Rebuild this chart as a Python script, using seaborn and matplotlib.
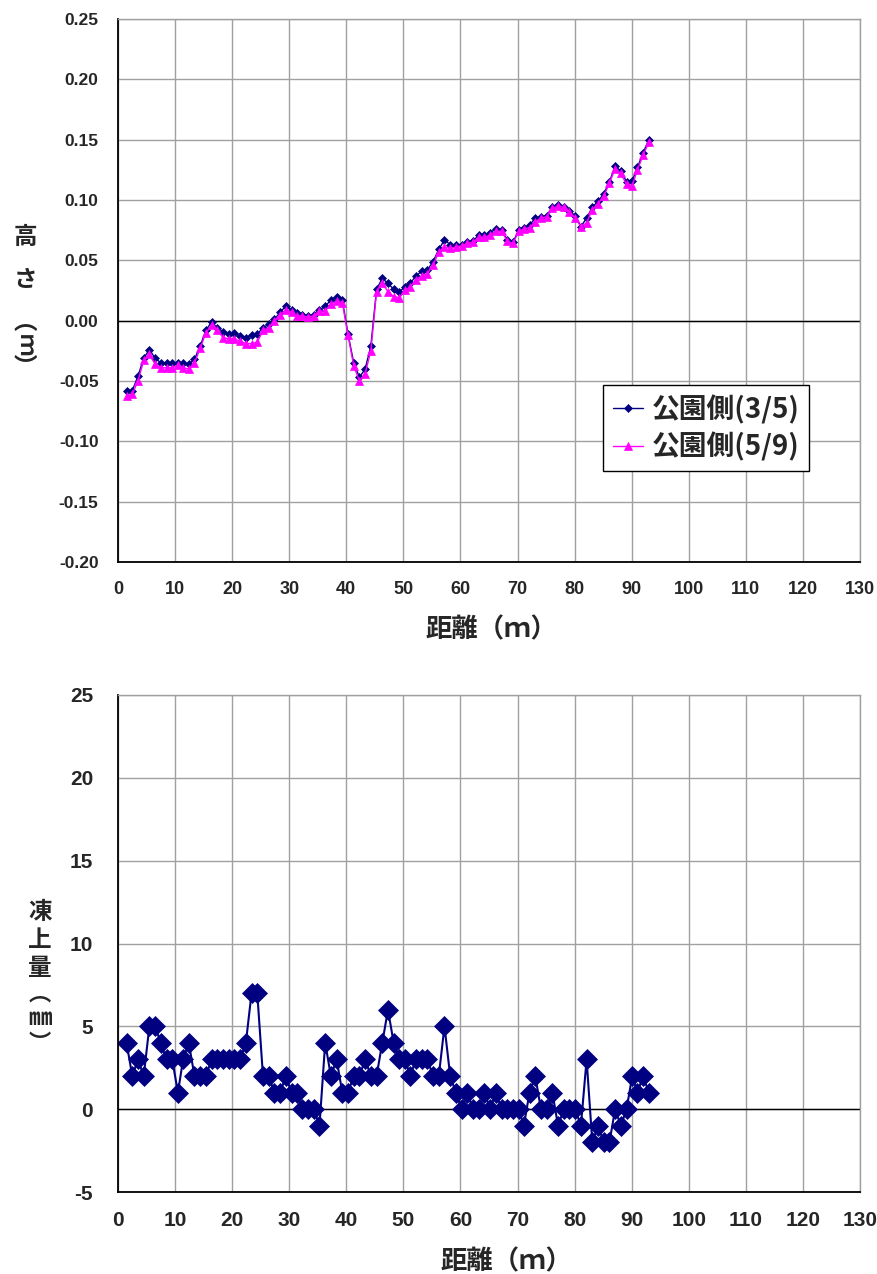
import matplotlib
matplotlib.use("Agg")
import matplotlib.pyplot as plt
import seaborn as sns
from matplotlib.ticker import FormatStrFormatter

# ---------------- data ----------------
distance = [1.5, 2.5, 3.5, 4.5, 5.5, 6.5, 7.5, 8.5, 9.5, 10.5,
            11.4, 12.4, 13.4, 14.4, 15.4, 16.4, 17.4, 18.4, 19.4, 20.4,
            21.4, 22.4, 23.4, 24.4, 25.4, 26.4, 27.4, 28.4, 29.4, 30.4,
            31.3, 32.3, 33.3, 34.3, 35.3, 36.3, 37.3, 38.3, 39.3, 40.3,
            41.3, 42.3, 43.3, 44.3, 45.3, 46.3, 47.3, 48.3, 49.3, 50.3,
            51.2, 52.2, 53.2, 54.2, 55.2, 56.2, 57.2, 58.2, 59.2, 60.2,
            61.2, 62.2, 63.2, 64.2, 65.2, 66.2, 67.2, 68.2, 69.2, 70.2,
            71.1, 72.1, 73.1, 74.1, 75.1, 76.1, 77.1, 78.1, 79.1, 80.1,
            81.1, 82.1, 83.1, 84.1, 85.1, 86.1, 87.1, 88.1, 89.1, 90.1,
            91.0, 92.0, 93.0]

height_0305 = [-0.058, -0.058, -0.046, -0.031, -0.024, -0.031, -0.035, -0.035, -0.035, -0.035,
               -0.035, -0.036, -0.032, -0.021, -0.008, -0.001, -0.006, -0.009, -0.011, -0.010,
               -0.013, -0.014, -0.012, -0.011, -0.006, -0.003, 0.001, 0.007, 0.012, 0.009,
               0.006, 0.005, 0.004, 0.005, 0.009, 0.012, 0.017, 0.020, 0.017, -0.011,
               -0.035, -0.047, -0.040, -0.021, 0.026, 0.035, 0.031, 0.026, 0.024, 0.028,
               0.031, 0.037, 0.041, 0.042, 0.049, 0.059, 0.067, 0.063, 0.063, 0.063,
               0.065, 0.066, 0.071, 0.071, 0.073, 0.076, 0.075, 0.067, 0.065, 0.075,
               0.077, 0.079, 0.085, 0.086, 0.087, 0.094, 0.096, 0.094, 0.091, 0.087,
               0.078, 0.085, 0.094, 0.099, 0.105, 0.115, 0.128, 0.124, 0.115, 0.116,
               0.127, 0.139, 0.150]

height_0509 = [-0.0625, -0.061, -0.050, -0.033, -0.028, -0.036, -0.039, -0.039, -0.039, -0.037,
               -0.039, -0.040, -0.035, -0.023, -0.010, -0.004, -0.008, -0.014, -0.015, -0.015,
               -0.017, -0.019, -0.019, -0.018, -0.008, -0.006, 0.000, 0.005, 0.009, 0.007,
               0.004, 0.004, 0.003, 0.004, 0.008, 0.008, 0.014, 0.016, 0.015, -0.012,
               -0.0375, -0.050, -0.044, -0.025, 0.024, 0.031, 0.024, 0.020, 0.019, 0.025,
               0.028, 0.034, 0.037, 0.039, 0.046, 0.057, 0.061, 0.060, 0.061, 0.062,
               0.064, 0.065, 0.069, 0.069, 0.071, 0.074, 0.074, 0.066, 0.064, 0.074,
               0.076, 0.077, 0.082, 0.085, 0.086, 0.093, 0.095, 0.094, 0.090, 0.085,
               0.078, 0.081, 0.092, 0.097, 0.103, 0.114, 0.126, 0.122, 0.113, 0.112,
               0.125, 0.137, 0.148]

heave_mm = [4, 2, 3, 2, 5, 5, 4, 3, 3, 1,
            3, 4, 2, 2, 2, 3, 3, 3, 3, 3,
            3, 4, 7, 7, 2, 2, 1, 1, 2, 1,
            1, 0, 0, 0, -1, 4, 2, 3, 1, 1,
            2, 2, 3, 2, 2, 4, 6, 4, 3, 3,
            2, 3, 3, 3, 2, 2, 5, 2, 1, 0,
            1, 0, 0, 1, 0, 1, 0, 0, 0, 0,
            -1, 1, 2, 0, 0, 1, -1, 0, 0, 0,
            -1, 3, -2, -1, -2, -2, 0, -1, 0, 2,
            1, 2, 1]

series_labels = ["公園側(3/5)", "公園側(5/9)"]
x_ticks = [0, 10, 20, 30, 40, 50, 60, 70, 80, 90, 100, 110, 120, 130]
top_yticks = [-0.20, -0.15, -0.10, -0.05, 0.00, 0.05, 0.10, 0.15, 0.20, 0.25]
bottom_yticks = [-5, 0, 5, 10, 15, 20, 25]
x_label = "距離（ｍ）"

# ---------------- style ----------------
sns.set_theme(style="white")
plt.rcParams['font.family'] = ['Liberation Sans', 'Noto Sans CJK JP', 'DejaVu Sans']
plt.rcParams['axes.unicode_minus'] = False

NAVY = "#000080"
MAGENTA = "#FF00FF"
GRID = "#a0a0a0"
CJK = ['Noto Sans CJK JP', 'DejaVu Sans']

W, H = 877, 1274
fig = plt.figure(figsize=(W / 100, H / 100), dpi=100)
ax1 = fig.add_axes([118 / W, 1 - 562 / H, 742 / W, 543 / H])
ax2 = fig.add_axes([118 / W, 1 - 1192 / H, 742 / W, 497 / H])

# ---------------- top chart ----------------
sns.lineplot(x=distance, y=height_0305, ax=ax1, color=NAVY, linewidth=1,
             marker='D', markersize=4, markeredgecolor=NAVY, markeredgewidth=0.5,
             label=series_labels[0], sort=False)
sns.lineplot(x=distance, y=height_0509, ax=ax1, color=MAGENTA, linewidth=1,
             marker='^', markersize=6, markeredgecolor=MAGENTA, markeredgewidth=0.5,
             label=series_labels[1], sort=False)

ax1.set_xlim(0, 130)
ax1.set_ylim(-0.20, 0.25)
ax1.set_xticks(x_ticks)
ax1.set_yticks(top_yticks)
ax1.yaxis.set_major_formatter(FormatStrFormatter('%.2f'))

# ---------------- bottom chart ----------------
sns.lineplot(x=distance, y=heave_mm, ax=ax2, color=NAVY, linewidth=1.5,
             marker='D', markersize=10, markeredgecolor=NAVY, markeredgewidth=0.5,
             legend=False, sort=False)
ax2.set_xlim(0, 130)
ax2.set_ylim(-5, 25)
ax2.set_xticks(x_ticks)
ax2.set_yticks(bottom_yticks)

for ax, xfs, yfs, xpad, ypad in [(ax1, 13, 12.5, 14, 14), (ax2, 15, 15, 14, 18)]:
    ax.set_axisbelow(True)
    ax.grid(True, color=GRID, linewidth=1)
    ax.axhline(0, color='black', linewidth=1, zorder=1.5)
    for s in ['left', 'bottom']:
        ax.spines[s].set_color('black')
        ax.spines[s].set_linewidth(1.3)
    for s in ['top', 'right']:
        ax.spines[s].set_color(GRID)
        ax.spines[s].set_linewidth(1)
    ax.tick_params(axis='x', length=0, pad=xpad, labelsize=xfs)
    ax.tick_params(axis='y', length=0, pad=ypad, labelsize=yfs)
    for t in ax.get_xticklabels() + ax.get_yticklabels():
        t.set_fontweight('bold')
    ax.set_ylabel("")

# x labels
ax1.set_xlabel(x_label, fontsize=19, fontweight='bold', family=CJK)
ax1.xaxis.set_label_coords(0.503, -(630 - 562) / 543)
ax1.xaxis.label.set_va('center')
ax2.set_xlabel(x_label, fontsize=19, fontweight='bold', family=CJK)
ax2.xaxis.set_label_coords(0.524, -(1262 - 1192) / 497)
ax2.xaxis.label.set_va('center')

# y labels (vertical stacked)
def ftext(x, y, s, **kw):
    fig.text(x / W, 1 - y / H, s, ha='center', va='center', family=CJK,
             fontweight='bold', **kw)

ftext(25, 237, "高", fontsize=17)
ftext(25, 280, "さ", fontsize=17)
ftext(25, 322, "︵", fontsize=17)
ftext(25, 345, "ｍ", fontsize=16, rotation=270)
ftext(25, 368, "︶", fontsize=17)

ftext(40, 912, "凍", fontsize=17)
ftext(40, 940, "上", fontsize=17)
ftext(40, 968, "量", fontsize=17)
ftext(40, 994, "︵", fontsize=16)
ftext(40, 1018, "㎜", fontsize=17)
ftext(40, 1043, "︶", fontsize=16)

# legend
leg = ax1.legend(loc='upper left', bbox_to_anchor=((603 - 118) / 742, (562 - 385) / 543),
                 frameon=True, fancybox=False, shadow=False, framealpha=1,
                 handlelength=1.1, handletextpad=0.3, borderpad=0.35, labelspacing=0.3,
                 borderaxespad=0,
                 prop={'family': CJK, 'weight': 'bold', 'size': 20})
leg.get_frame().set_edgecolor('black')
leg.get_frame().set_linewidth(1)

fig.savefig("out.png", dpi=100)
